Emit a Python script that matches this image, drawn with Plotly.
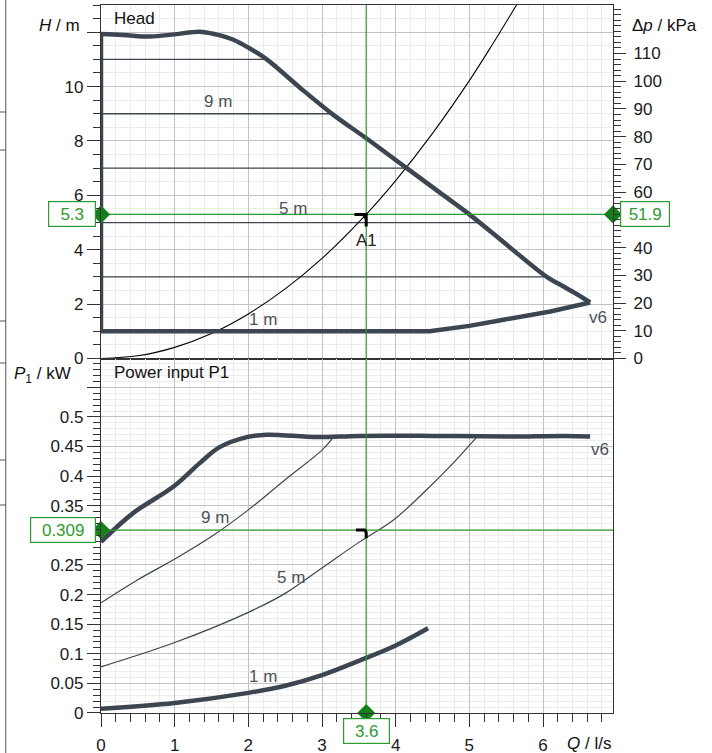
import plotly.graph_objects as go
from plotly.subplots import make_subplots

# Flow axis (l/s)
q_max = 6.95

# Head curves (H / m)
h_max_q = [0, 0.3, 0.66, 1.0, 1.34, 1.56, 1.79, 2.02, 2.25, 2.7, 3.15, 3.6, 4.15, 4.6, 5.0, 5.5, 6.05, 6.23, 6.45, 6.64]
h_max_h = [11.93, 11.9, 11.84, 11.92, 12.02, 11.92, 11.73, 11.4, 11.0, 9.96, 8.97, 8.1, 7.0, 6.1, 5.3, 4.2, 3.0, 2.72, 2.38, 2.06]
h_min_q = [6.64, 6.1, 5.41, 5.0, 4.46, 0, 0]
h_min_h = [2.06, 1.73, 1.40, 1.2, 1.0, 1.0, 11.93]

const_h = [11, 9, 7, 5, 3]
const_q_end = [2.22, 3.15, 4.13, 5.12, 6.05]

sys_q = [0, 0.5, 1.0, 1.5, 2.0, 2.5, 3.0, 3.6, 4.0, 4.5, 5.0, 5.3, 5.64]
sys_h = [0, 0.1, 0.41, 0.92, 1.64, 2.56, 3.68, 5.3, 6.54, 8.28, 10.22, 11.49, 13.0]

# Power input curves (P1 / kW)
p_max_q = [0, 0.44, 0.98, 1.34, 1.61, 1.98, 2.25, 2.93, 3.5, 4.5, 5.5, 6.3, 6.64]
p_max_p = [0.289, 0.338, 0.382, 0.422, 0.449, 0.466, 0.470, 0.466, 0.468, 0.468, 0.467, 0.468, 0.467]
p9_q = [0, 0.5, 1.0, 1.5, 2.0, 2.5, 3.0, 3.15]
p9_p = [0.186, 0.225, 0.26, 0.298, 0.343, 0.394, 0.444, 0.465]
p5_q = [0, 1.0, 2.0, 2.5, 3.0, 3.51, 3.97, 4.42, 4.78, 5.1]
p5_p = [0.078, 0.119, 0.17, 0.202, 0.245, 0.289, 0.326, 0.377, 0.422, 0.466]
p1_q = [0, 1.0, 2.0, 2.5, 3.0, 3.5, 4.0, 4.44]
p1_p = [0.007, 0.017, 0.034, 0.046, 0.064, 0.088, 0.114, 0.143]

# Operating point A1
op_q = 3.6
op_h = 5.3
op_dp = 51.9
op_p = 0.309

# Axis ticks
h_ticks = [0, 2, 4, 6, 8, 10, 12]
h_labels = ["0", "2", "4", "6", "8", "10", " "]
dp_ticks = [0, 10, 20, 30, 40, 60, 70, 80, 90, 100, 110]
p_ticks = [0, 0.05, 0.1, 0.15, 0.2, 0.25, 0.35, 0.4, 0.45, 0.5, 0.55]
p_labels = ["0", "0.05", "0.1", "0.15", "0.2", "0.25", "0.35", "0.4", "0.45", "0.5", " "]

dark = "#3c4650"
green = "#2f9a2f"
green_dark = "#13801a"
grid_major = "#c2c2c2"
grid_minor = "#ececec"
axis_col = "#333333"
font = "Liberation Sans, Arial, sans-serif"

fig = make_subplots(
    rows=2, cols=1,
    shared_xaxes=True,
    vertical_spacing=0.0014,
    specs=[[{"secondary_y": True}], [{}]],
)

# ---- Head panel ----
for h, qe in zip(const_h, const_q_end):
    fig.add_trace(go.Scatter(x=[0, qe], y=[h, h], mode="lines",
                             line=dict(color=dark, width=1.3)), row=1, col=1)

fig.add_trace(go.Scatter(x=sys_q, y=sys_h, mode="lines", line_shape="spline",
                         line=dict(color="black", width=1.1)), row=1, col=1)

fig.add_trace(go.Scatter(x=h_max_q, y=h_max_h, mode="lines", line_shape="spline",
                         line=dict(color=dark, width=4.5)), row=1, col=1)
fig.add_trace(go.Scatter(x=h_min_q, y=h_min_h, mode="lines",
                         line=dict(color=dark, width=4.5)), row=1, col=1)

# green reference lines
fig.add_trace(go.Scatter(x=[0, q_max], y=[op_h, op_h], mode="lines",
                         line=dict(color=green, width=1.2)), row=1, col=1)
fig.add_trace(go.Scatter(x=[op_q, op_q], y=[0, 13], mode="lines",
                         line=dict(color=green, width=1.2)), row=1, col=1)

# A1 symbol
fig.add_trace(go.Scatter(x=[op_q - 0.16, op_q, op_q], y=[op_h, op_h, op_h - 0.45], mode="lines",
                         line=dict(color="black", width=3)), row=1, col=1)
fig.add_trace(go.Scatter(x=[op_q - 0.06, op_q, op_q, op_q - 0.06], y=[op_h, op_h, op_h - 0.22, op_h],
                         mode="lines", fill="toself", fillcolor="black",
                         line=dict(color="black", width=1)), row=1, col=1)

fig.add_trace(go.Scatter(x=[0, q_max], y=[op_h, op_h], mode="markers", cliponaxis=False,
                         marker=dict(symbol="diamond", size=14, color=green_dark)), row=1, col=1)

# ---- Power panel ----
fig.add_trace(go.Scatter(x=p9_q, y=p9_p, mode="lines", line_shape="spline",
                         line=dict(color=dark, width=1.2)), row=2, col=1)
fig.add_trace(go.Scatter(x=p5_q, y=p5_p, mode="lines", line_shape="spline",
                         line=dict(color=dark, width=1.2)), row=2, col=1)
fig.add_trace(go.Scatter(x=p_max_q, y=p_max_p, mode="lines", line_shape="spline",
                         line=dict(color=dark, width=4.5)), row=2, col=1)
fig.add_trace(go.Scatter(x=p1_q, y=p1_p, mode="lines", line_shape="spline",
                         line=dict(color=dark, width=4.5)), row=2, col=1)

fig.add_trace(go.Scatter(x=[0, q_max], y=[op_p, op_p], mode="lines",
                         line=dict(color=green, width=1.2)), row=2, col=1)
fig.add_trace(go.Scatter(x=[op_q, op_q], y=[0, 0.6], mode="lines",
                         line=dict(color=green, width=1.2)), row=2, col=1)
fig.add_trace(go.Scatter(x=[op_q - 0.14, op_q - 0.02, op_q, op_q], y=[op_p, op_p, op_p - 0.004, op_p - 0.014],
                         mode="lines", line=dict(color="black", width=3)), row=2, col=1)
fig.add_trace(go.Scatter(x=[0, op_q], y=[op_p, 0], mode="markers", cliponaxis=False,
                         marker=dict(symbol="diamond", size=14, color=green_dark)), row=2, col=1)

# invisible trace to activate the Δp axis
fig.add_trace(go.Scatter(x=[0], y=[0], mode="markers", marker=dict(opacity=0),
                         hoverinfo="skip"), row=1, col=1, secondary_y=True)

fig.update_layout(
    width=712, height=753,
    autosize=False,
    margin=dict(l=101, r=99, t=5, b=40),
    showlegend=False,
    plot_bgcolor="white",
    paper_bgcolor="white",
    font=dict(family=font, size=16, color="#1a1a1a"),
)

fig.update_xaxes(
    domain=[0, 1],
    range=[0, q_max], dtick=1, showgrid=True, gridcolor=grid_major, gridwidth=1,
    minor=dict(dtick=0.2, showgrid=True, gridcolor=grid_minor),
    showline=True, linecolor=axis_col, linewidth=1.2, mirror=True, zeroline=False,
    automargin=False,
)
fig.update_yaxes(automargin=False)
fig.update_xaxes(showticklabels=False, ticks="", row=1, col=1)
fig.update_xaxes(ticks="outside", ticklen=13, tickcolor=axis_col, ticklabelstandoff=3,
                 minor=dict(ticks="outside", ticklen=8, tickcolor=axis_col),
                 tickfont=dict(size=17), row=2, col=1)

fig.update_yaxes(
    range=[0, 13], tickvals=h_ticks, ticktext=h_labels,
    ticks="outside", ticklen=13, tickcolor=axis_col, tickfont=dict(size=17),
    showgrid=True, gridcolor=grid_major, zeroline=False,
    minor=dict(tickmode="linear", tick0=0, dtick=0.5, ticks="outside", ticklen=7,
               tickcolor=axis_col, showgrid=True, gridcolor=grid_minor),
    showline=True, linecolor=axis_col, linewidth=1.2, mirror=True,
    row=1, col=1, secondary_y=False,
)
fig.update_yaxes(
    range=[0, 127.49], tickvals=dp_ticks,
    ticks="outside", ticklen=12, tickcolor=axis_col, tickfont=dict(size=17), ticklabelstandoff=4,
    showgrid=False, zeroline=False,
    minor=dict(tickmode="linear", tick0=0, dtick=2, ticks="outside", ticklen=7, tickcolor=axis_col),
    showline=True, linecolor=axis_col, linewidth=1.2,
    row=1, col=1, secondary_y=True,
)
fig.update_yaxes(
    range=[0, 0.597], tickvals=p_ticks, ticktext=p_labels,
    ticks="outside", ticklen=13, tickcolor=axis_col, tickfont=dict(size=17),
    showgrid=True, gridcolor=grid_major, zeroline=False,
    minor=dict(tickmode="linear", tick0=0, dtick=0.01, ticks="outside", ticklen=7,
               tickcolor=axis_col, showgrid=True, gridcolor=grid_minor),
    showline=True, linecolor=axis_col, linewidth=1.2, mirror=True,
    row=2, col=1,
)

# curve labels
label_font = dict(family=font, size=17, color="#4a525a")
for txt, x, y in [("9 m", 1.59, 9.45), ("5 m", 2.6, 5.5), ("1 m", 2.2, 1.45), ("v6", 6.75, 1.5)]:
    fig.add_annotation(text=txt, x=x, y=y, xref="x", yref="y", showarrow=False, font=label_font)
for txt, x, y in [("9 m", 1.55, 0.33), ("5 m", 2.58, 0.228), ("1 m", 2.2, 0.062), ("v6", 6.78, 0.445)]:
    fig.add_annotation(text=txt, x=x, y=y, xref="x2", yref="y3", showarrow=False, font=label_font)

fig.add_annotation(text="A1", x=op_q, y=op_h - 0.95, xref="x", yref="y", showarrow=False,
                   font=dict(family=font, size=17, color="#222222"))

# panel titles and axis titles
title_font = dict(size=17, color="#111111")
fig.add_annotation(text="Head", x=0.022, y=13, xref="paper", yref="y", xanchor="left", yanchor="top",
                   yshift=-2, showarrow=False, font=title_font)
fig.add_annotation(text="Power input P1", x=0.022, y=0.597, xref="paper", yref="y3",
                   xanchor="left", yanchor="top", yshift=-2, showarrow=False, font=title_font)
fig.add_annotation(text="<i>H</i> / m", x=0, y=12, xref="paper", yref="y", xanchor="right",
                   yshift=7, xshift=-19, showarrow=False, font=title_font)
fig.add_annotation(text="Δ<i>p</i> / kPa", x=1, y=12, xref="paper", yref="y", xanchor="left",
                   yshift=7, xshift=17, showarrow=False, font=title_font)
fig.add_annotation(text="<i>P</i><sub>1</sub> / kW", x=0, y=0.57, xref="paper", yref="y3",
                   xanchor="right", xshift=-28, showarrow=False, font=title_font)
fig.add_annotation(text="<i>Q</i> / l/s", x=1, y=0, xref="paper", yref="y3", xanchor="right",
                   yanchor="middle", yshift=-31, showarrow=False, font=title_font)

# green value boxes
box = dict(showarrow=False, bgcolor="white", bordercolor=green, borderwidth=1.2, borderpad=2,
           height=20, font=dict(size=17, color=green))
fig.add_annotation(text=f"{op_h}", x=0, y=op_h, xref="paper", yref="y", xanchor="right",
                   xshift=-5, width=42, **box)
fig.add_annotation(text=f"{op_dp}", x=1, y=op_h, xref="paper", yref="y", xanchor="left",
                   xshift=7, width=44, **box)
fig.add_annotation(text=f"{op_p}", x=0, y=op_p, xref="paper", yref="y3", xanchor="right",
                   xshift=-5, width=60, **box)
fig.add_annotation(text=f"{op_q}", x=op_q, y=0, xref="x2", yref="y3", yanchor="top",
                   yshift=-5, width=41, **box)

# stray frame lines at the left edge of the page
fig.add_shape(type="line", xref="paper", yref="paper", x0=-0.186, x1=-0.186, y0=-0.06, y1=1.01,
              line=dict(color="#555555", width=1))
for yp in [112, 150, 321, 363, 460, 505]:
    yy = (713 - yp) / 708
    fig.add_shape(type="line", xref="paper", yref="paper", x0=-0.198, x1=-0.186, y0=yy, y1=yy,
                  line=dict(color="#555555", width=1))

fig.write_html(
    "out.html",
    config={"responsive": False, "displayModeBar": False},
    post_script="document.body.style.margin='0px';document.body.style.overflow='hidden';",
)
